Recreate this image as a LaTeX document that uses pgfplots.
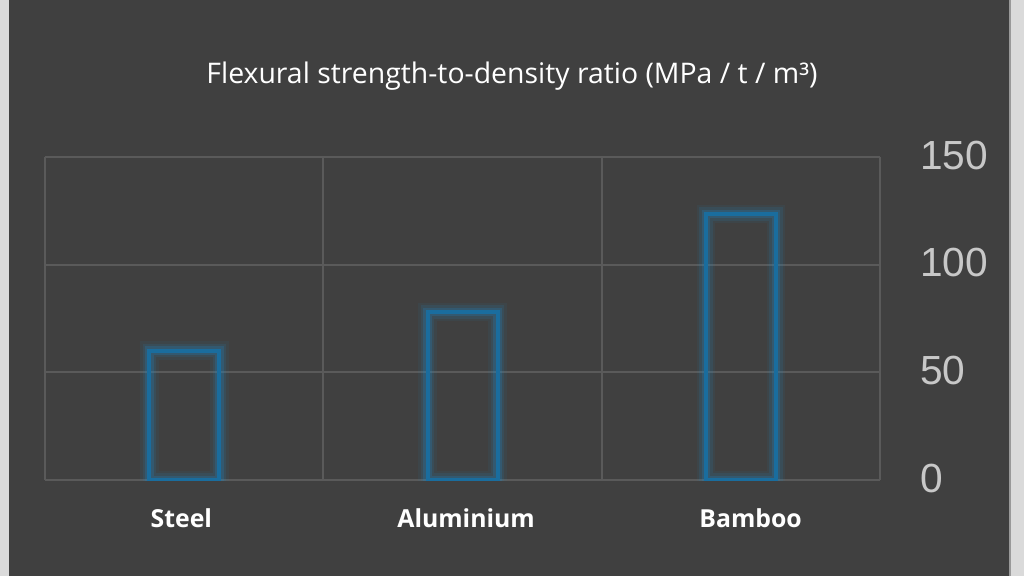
\documentclass[border=0pt]{standalone}
\usepackage{pgfplots}
\pgfplotsset{compat=1.18}
\usepackage{fontspec}
\setmainfont{Open Sans}
\newfontfamily\arialf{Liberation Sans}
\definecolor{bgdark}{HTML}{404040}
\definecolor{bgedge}{HTML}{DADADA}
\definecolor{gridc}{HTML}{5A5A5A}
\definecolor{barc}{HTML}{1A6D9E}
\definecolor{glowc}{HTML}{1E88C8}
\definecolor{tickc}{HTML}{C8C8C8}
\pgfplotstableread{
x val
0 60
1 78
2 123.5
}\datatable
\begin{document}
\begin{tikzpicture}
\useasboundingbox (0,0) rectangle (768pt,432pt);
\fill[bgedge] (0,0) rectangle (768pt,432pt);
\fill[bgdark] (6.75pt,0) rectangle (757.5pt,432pt);
\draw[gray!80, line width=0.8pt] (757.5pt,0) -- (757.5pt,432pt);
\node[text=white, font=\fontsize{21.3}{25}\selectfont] at (384pt,375pt) {Flexural strength-to-density ratio (MPa / t / m³)};
\begin{axis}[
  at={(33.75pt,72pt)}, anchor=south west,
  width=626.25pt, height=242.25pt, scale only axis,
  xmin=-0.5, xmax=2.5, ymin=0, ymax=150,
  axis line style={draw=none},
  xtick={-0.01,1.013,2.035},
  xticklabels={Steel,Aluminium,Bamboo},
  x tick label style={text=white, font=\fontsize{18.6}{22}\selectfont\bfseries, yshift=-18pt},
  major tick length=0pt,
  extra x ticks={-0.5,0.5,1.5,2.5},
  extra x tick labels={},
  extra x tick style={grid=major, major grid style={gridc, line width=1.5pt}},
  ytick={0,50,100,150},
  yticklabel pos=right,
  y tick label style={text=tickc, font=\arialf\fontsize{30.5}{32}\selectfont, anchor=west, inner sep=0pt, xshift=30pt, yshift=1.5pt},
  /pgf/number format/assume math mode=true,
  ymajorgrids, major grid style={gridc, line width=1.5pt},
  ybar, bar width=52.5pt, bar shift=0pt,
]
\addplot[draw=glowc, draw opacity=0.07, line width=14pt, fill=none] table[x=x,y=val]{\datatable};
\addplot[draw=glowc, draw opacity=0.12, line width=10pt, fill=none] table[x=x,y=val]{\datatable};
\addplot[draw=glowc, draw opacity=0.22, line width=6.5pt, fill=none] table[x=x,y=val]{\datatable};
\addplot[draw=barc, line width=3pt, fill=none] table[x=x,y=val]{\datatable};
\end{axis}
\end{tikzpicture}
\end{document}
